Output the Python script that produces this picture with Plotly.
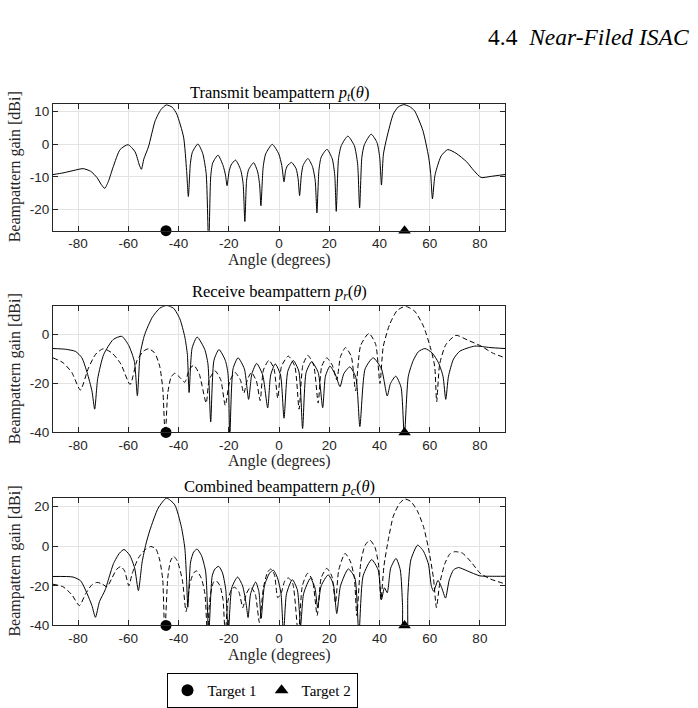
import plotly.graph_objects as go

# ---------------- data ----------------
tx_angle = [-90, -86, -82, -78, -75, -72.5, -70.8, -69.4, -68, -66, -63.3, -60.1, -57.3, -55.6, -54.8,
            -53.8, -52, -49.3, -47, -44.9, -42.5, -40.7, -38, -36.8, -36.1,
            -35.3, -34.5, -32.3, -30.4, -29, -28,
            -27.2, -26.4, -24.3, -22.3, -21.3, -20.7,
            -19.9, -19.1, -17.3, -15.3, -14.3, -13.6,
            -12.9, -12.1, -10.1, -8.5, -7.7, -7.2,
            -6.3, -5.3, -2.7, -0.1, 1.1, 2.0,
            2.6, 3.3, 5.0, 6.8, 7.6, 8.2,
            8.9, 9.6, 11.5, 13.3, 14.4, 15.1,
            15.9, 16.8, 19.1, 21.2, 22.2, 22.8,
            23.7, 24.8, 27.4, 30, 31.3, 32.1,
            33, 34, 36.7, 39, 40.1, 40.8,
            41.6, 43, 45.5, 47.5, 49.7, 52, 54, 57.3, 59.6, 60.4, 61.1,
            62, 62.6, 64.6, 67.2, 70.5, 74.7, 77.5, 80.5, 84, 90]
tx_gain = [-9.3, -8.8, -8.1, -7.5, -8.3, -10.2, -12.3, -13.5, -11.5, -6.9, -1.7, -0.2, -2.4, -6.4, -7.7,
           -4.5, -0.9, 7.1, 10.5, 11.9, 11.2, 9.1, 2.1, -8, -16,
           -6, -2.5, 0, -2.8, -9, -32,
           -10, -5.8, -3.4, -6.5, -9.5, -12.7,
           -8.5, -6.4, -4.9, -7.8, -12, -23.6,
           -11, -7.8, -5.7, -8.5, -12.5, -18.8,
           -7, -3, -0.1, -3, -6.5, -11.5,
           -8.2, -6.7, -5.6, -7.5, -10.5, -15.7,
           -9.5, -6.5, -4.4, -6.8, -11, -21,
           -8, -4, -1.6, -4.5, -9.5, -20.5,
           -4.5, -0.5, 2.4, -0.5, -6, -19.5,
           -4, -0.2, 3.0, 0.5, -4, -12.5,
           -3, 2.1, 9.1, 11.3, 12.0, 11.4, 10.1, 4.1, -4, -9, -16.7,
           -10, -8, -3.6, -1.7, -2.8, -5.4, -8, -10.2, -9.9, -9.3]

rx1_angle = [-90, -85, -81, -78.5, -76.4, -74.5, -73.4, -72.2, -69.8, -66, -62.6, -59.8, -57.6, -56.4,
             -55.3, -53.5, -50.5, -47.5, -44.8, -42, -39.5, -37.5, -36.5, -35.8,
             -34.6, -32.6, -29.6, -28.3, -27.2,
             -25.9, -23.9, -21.4, -20.3, -19.6,
             -18.3, -16.3, -13.8, -12.1,
             -10.8, -8.9, -6.5, -4.5,
             -3.3, -1.5, 0.6, 2.0,
             3.5, 5.7, 7.9, 9.4,
             10.8, 13, 15.6, 17.4,
             18.5, 20.3, 22.5, 24.3,
             25.8, 28.2, 30.6, 32.2,
             34.3, 37.5, 40.8, 43.1,
             44.4, 46.5, 48.6, 49.9,
             51.5, 53.5, 55.5, 58.1, 61, 63.5, 65.3, 66.4,
             67.5, 69.5, 72, 78, 84, 90]
rx1_gain = [-5.7, -6, -6.9, -9.5, -15.6, -23, -30.5, -18, -8.1, -2, -0.7, -4.5, -11, -25,
            -8, 0, 7, 10.8, 11.9, 10.8, 6.5, -1, -8, -23.7,
            -5.5, -1, -6, -12, -35.7,
            -10.5, -6.1, -10.5, -16, -42,
            -14, -9.5, -14, -26.5,
            -16, -11.8, -16.5, -30,
            -16.5, -12, -16.5, -34.2,
            -15, -10.6, -15, -38.4,
            -15.5, -11.1, -15.5, -29.9,
            -17, -12.9, -16.5, -21.3,
            -16, -13.2, -17.5, -37.6,
            -14, -9.5, -14, -25.1,
            -20, -17, -21.5, -42,
            -17, -10.5, -7, -5.7, -7.5, -11.5, -17, -26.5,
            -17, -10, -6.8, -4.7, -5.3, -5.7]

rx2_angle = [-90, -86, -82.5, -79.1, -76, -73, -70, -66.5, -63, -59.3, -56.5, -54, -52, -49.5, -47.5,
             -46.3, -45.3, -44.3, -43, -41.5, -39.5, -37.5, -35.8, -34, -31.8, -29, -27.8, -25.5,
             -23.2, -21.4, -19.6, -17.5, -15.4, -14, -12.6, -11, -9, -7.5, -6.2, -4, -2, -0.5,
             1, 3.7, 6.3, 8, 9.5, 11.5, 13.8, 15.6, 17, 19, 21.2, 23, 24.5, 26.5, 28.8, 30.5,
             32.5, 35.8, 38.5, 40.2, 41.5, 44, 47, 50.3, 54, 57.5, 60.5, 62, 62.8, 64, 66.5, 70.5,
             75, 80.5, 85, 90]
rx2_gain = [-9.5, -11.5, -15.5, -22.7, -14, -8, -5.8, -7.5, -12, -20.4, -10.5, -6.8, -5.8, -7.5, -13,
            -22, -42, -24, -17.5, -15.8, -17.5, -19.5, -14.5, -12.5, -16, -28, -18.5, -14.8,
            -18.5, -29, -19, -15.5, -18.5, -24, -18.5, -15.5, -19, -27, -14.5, -10.5, -14, -26,
            -13, -8.8, -13, -30.5, -12.5, -8.5, -12.5, -28, -13, -9.5, -12.5, -18.5, -9, -5.3, -9, -23,
            -4.5, 0.5, -4, -20, -5, 4, 9.8, 11.6, 9.6, 3.5, -6, -13, -27.5, -12, -4, -0.3,
            -2.2, -4.7, -7.5, -9.5]

c1_angle = [-90, -82, -79, -76.4, -74.5, -73.1, -71.5, -69.2, -67.5, -65.9, -63.5, -61.7, -59.5, -57.5, -56,
            -54.5, -53, -51.4, -48.1, -44.8, -41.5, -38.9, -37.5, -36.9, -36.3,
            -35.2, -34, -32.6, -30.8, -29.2, -28,
            -26.6, -25.5, -24, -22.5, -21.2, -20.2,
            -18.8, -16.5, -14.5, -13, -12.3,
            -11.3, -9.3, -8, -7.1,
            -5.8, -3.7, -2.2, -0.6, 0.8, 1.8,
            3, 5.3, 7.3, 8.6,
            9.8, 12.5, 14.3, 15.4,
            16.8, 19.6, 21.6, 23,
            24.5, 27.6, 30.2, 31.8,
            33.5, 36.9, 39.5, 40.8, 42, 43.1,
            44.5, 46.6, 48.3, 49.2, 49.6, 50.8, 51.3,
            52.5, 55.2, 57.5, 59.5, 60.7, 61.6, 63.3, 64.8, 66.3,
            67.8, 69.5, 71.5, 75, 80, 85, 90]
c1_gain = [-15.3, -15.6, -17.5, -24, -30, -35.9, -28, -22, -15, -8.8, -3.5, -1.7, -4.5, -11, -22.4,
           -8, 1, 8.1, 19.2, 24.2, 20.8, 9.8, -1, -13.9, -30.8,
           -8, -3, -1.5, -5, -13, -45,
           -15, -11.5, -10.2, -13.5, -22, -45,
           -21, -15.6, -20, -30, -36,
           -24, -18.1, -23, -36.4,
           -20, -13.5, -12.2, -16, -24, -45,
           -24, -16.9, -22, -40,
           -24, -16.2, -21, -31,
           -20, -14.5, -19, -34,
           -20, -11.5, -16, -45,
           -15, -6.8, -12, -27, -21, -23.5,
           -11, -6.2, -12, -30, -50, -50, -25,
           -7, 0.5, -2.5, -9, -20.3, -22.8, -17.3, -21, -26.2,
           -17, -12, -10.8, -12.5, -15, -15.2, -15.2]

c2_angle = [-90, -86, -82.5, -79.5, -77, -74.5, -72.5, -70.5, -68.5, -66.5, -64.5, -63, -61.5, -59.8,
            -58.5, -56, -53.5, -51, -49, -47.5, -46.3, -45.5, -44.3, -43.2, -42, -40.5, -38.5, -37,
            -35.5, -34, -32.8, -31, -29.5, -28.5, -27.5, -26, -25, -23.5, -22.3, -21.4, -20.4, -19,
            -17.7, -16, -14.4, -13, -11.3, -9.5, -7.8, -6.2, -4.5, -3.2, -1.8, -0.5, 0.8, 2.3, 3.7,
            5.5, 7.7, 9.3, 11.4, 13.3, 15.2, 16.8, 19, 21, 22.5, 23.8, 26.3, 28.5, 30, 31,
            32.6, 34.3, 36.2, 38.2, 39.6, 40.6, 41.8, 43.5, 45.5, 48, 50.1, 52.5, 55, 57.5, 59.5,
            61.5, 62.7, 64, 66, 68, 70, 73, 76.5, 80, 84, 90]
c2_gain = [-19.2, -20.5, -24.5, -30, -24, -19.5, -18.3, -19, -20.5, -16, -11.5, -10.3, -12.5, -20,
           -14, -6, -2, -0.2, -1.5, -7, -17, -45, -16, -7.5, -5.1, -7.5, -17, -33,
           -19, -13.5, -12.5, -16, -24, -45, -26, -18, -17.5, -20, -27, -45, -28, -22,
           -20.7, -23, -31, -24, -20.7, -24, -38.5, -21, -13, -11.5, -14.5, -26, -24, -17.5, -16,
           -19, -45, -20, -13.7, -17, -35, -16, -11.2, -15, -28.7, -12, -3.7, -8, -16, -35,
           -8, 0.5, 3, -0.5, -9, -27, -10, 3, 15, 21.5, 23.8, 22.5, 18, 10, -1,
           -16, -31, -19, -9, -4, -2.8, -3.5, -8, -13.5, -16.5, -19]

target_angle = [-45, 50]
target_names = ["Target 1", "Target 2"]
target_symbols = ["circle", "triangle-up"]

x_range = [-90, 90]
x_ticks = [-80, -60, -40, -20, 0, 20, 40, 60, 80]
y_ranges = [[-26.4, 12.2], [-40, 11.6], [-40, 24.4]]
y_ticks = [[-20, -10, 0, 10], [-40, -20, 0], [-40, -20, 0, 20]]
titles = ["Transmit beampattern <i>p</i><sub><i>t</i></sub>(<i>θ</i>)",
          "Receive beampattern <i>p</i><sub><i>r</i></sub>(<i>θ</i>)",
          "Combined beampattern <i>p</i><sub><i>c</i></sub>(<i>θ</i>)"]

# ---------------- layout geometry (pixels) ----------------
W, H = 698, 708
plot_x = [53, 505]
plot_y = [(105, 233), (309.3, 436.7), (502.7, 631.7)]
title_y = [93.5, 295, 492]
xlabel_y = [263, 466, 662]

SERIF = "Liberation Serif, Times New Roman, serif"
SANS = "Liberation Sans, Arial, Helvetica, sans-serif"
AX = "#262626"


def px(x):
    return x / W


def py(y):
    return 1 - y / H


fig = go.Figure()

curves = [
    [(tx_angle, tx_gain, "solid")],
    [(rx1_angle, rx1_gain, "solid"), (rx2_angle, rx2_gain, "5px,3px")],
    [(c1_angle, c1_gain, "solid"), (c2_angle, c2_gain, "5px,3px")],
]

for i in range(3):
    xa = "x" if i == 0 else f"x{i+1}"
    ya = "y" if i == 0 else f"y{i+1}"
    for ang, gain, dash in curves[i]:
        fig.add_trace(go.Scatter(x=ang, y=gain, mode="lines", xaxis=xa, yaxis=ya,
                                 line=dict(color="black", width=1, dash=dash, shape="spline", smoothing=0.6),
                                 showlegend=False, hoverinfo="skip"))
    for k in range(2):
        fig.add_trace(go.Scatter(x=[target_angle[k]], y=[y_ranges[i][0]], mode="markers",
                                 xaxis=xa, yaxis=ya, name=target_names[k],
                                 marker=dict(symbol=target_symbols[k], color="black", size=11),
                                 cliponaxis=False, showlegend=(i == 0)))

    axis_common = dict(showline=True, linecolor=AX, linewidth=1, mirror="ticks",
                       ticks="inside", ticklen=5, tickcolor=AX, showgrid=True,
                       gridcolor="#e3e3e3", gridwidth=1, zeroline=False,
                       tickfont=dict(family=SANS, size=13.5, color=AX))
    xkey = "xaxis" if i == 0 else f"xaxis{i+1}"
    ykey = "yaxis" if i == 0 else f"yaxis{i+1}"
    fig.update_layout(**{
        xkey: dict(axis_common, domain=[px(plot_x[0]), px(plot_x[1])], range=x_range,
                   anchor=ya, tickvals=x_ticks, ticktext=[str(t) for t in x_ticks]),
        ykey: dict(axis_common, domain=[py(plot_y[i][1]), py(plot_y[i][0])], range=y_ranges[i],
                   anchor=xa, tickvals=y_ticks[i], ticktext=[str(t) for t in y_ticks[i]]),
    })

    cx = px((plot_x[0] + plot_x[1]) / 2)
    fig.add_annotation(x=cx, y=py(title_y[i]), xref="paper", yref="paper", text=titles[i],
                       showarrow=False, xanchor="center", yanchor="middle",
                       font=dict(family=SERIF, size=16.5, color="black"))
    fig.add_annotation(x=cx, y=py(xlabel_y[i]), xref="paper", yref="paper", text="Angle (degrees)",
                       showarrow=False, xanchor="center", yanchor="middle",
                       font=dict(family=SERIF, size=16, color=AX))
    fig.add_annotation(x=px(15), y=py((plot_y[i][0] + plot_y[i][1]) / 2), xref="paper", yref="paper",
                       text="Beampattern gain [dBi]", textangle=-90, showarrow=False,
                       xanchor="center", yanchor="middle",
                       font=dict(family=SERIF, size=16, color=AX))

fig.add_annotation(x=px(691), y=py(37), xref="paper", yref="paper",
                   text="4.4  <i>Near-Filed ISAC</i>", showarrow=False,
                   xanchor="right", yanchor="middle",
                   font=dict(family=SERIF, size=23.5, color="black"))

fig.update_layout(
    width=W, height=H, margin=dict(l=0, r=0, t=0, b=0),
    paper_bgcolor="white", plot_bgcolor="white",
    showlegend=True,
    legend=dict(orientation="h", x=px(262), y=py(680), xanchor="center", yanchor="top",
                bordercolor="black", borderwidth=1, bgcolor="white",
                font=dict(family=SERIF, size=15, color="black"),
                itemwidth=30, tracegroupgap=0, itemsizing="constant"),
)

fig.write_html("out.html")
